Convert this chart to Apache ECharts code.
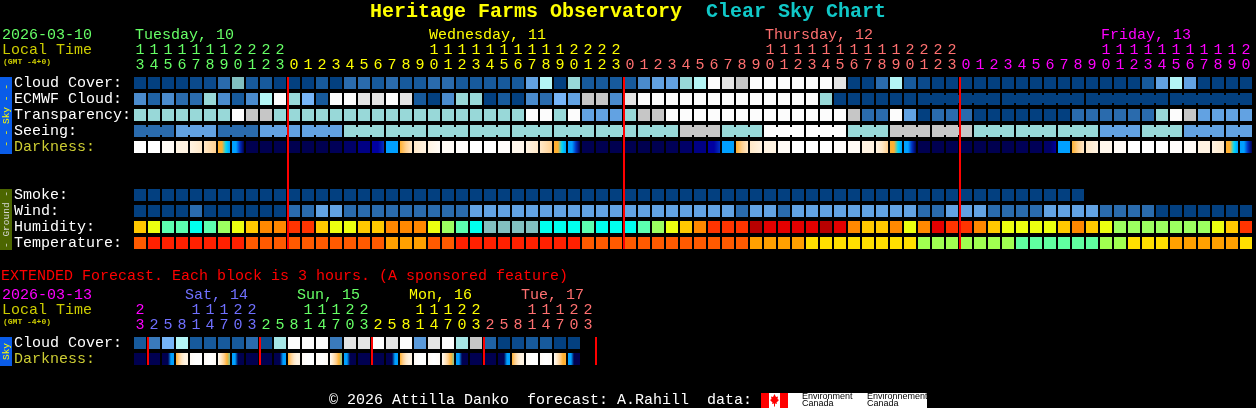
<!DOCTYPE html>
<html><head><meta charset="utf-8">
<style>html,body{margin:0;padding:0;background:#000}#c{width:1256px;height:408px}</style>
<script src="https://cdn.jsdelivr.net/npm/echarts@6/dist/echarts.min.js"></script>
</head><body><div id="c"></div>
<script>
// ---------- day colours ----------
const GREEN='#66ff66',YEL='#ffff00',SALMON='#ff7070',MAG='#ff00ff',PERI='#7070ff',OLIVE='#cccc00';

// ---------- hour labels, main forecast ----------
const hourTens=['1','1','1','1','1','1','1','2','2','2','2',
 '','','','','','','','','','','1','1','1','1','1','1','1','1','1','1','2','2','2','2',
 '','','','','','','','','','','1','1','1','1','1','1','1','1','1','1','2','2','2','2',
 '','','','','','','','','','','1','1','1','1','1','1','1','1','1','1','2'];
const hourOnes=['3','4','5','6','7','8','9','0','1','2','3',
 '0','1','2','3','4','5','6','7','8','9','0','1','2','3','4','5','6','7','8','9','0','1','2','3',
 '0','1','2','3','4','5','6','7','8','9','0','1','2','3','4','5','6','7','8','9','0','1','2','3',
 '0','1','2','3','4','5','6','7','8','9','0','1','2','3','4','5','6','7','8','9','0'];
const dayStartCols=[0,11,35,59,80];
const dayColors=[GREEN,YEL,SALMON,MAG];
const dayNames=['Tuesday, 10','Wednesday, 11','Thursday, 12','Friday, 13'];
const dayNameCols=[0,21,45,69];
const midnightCols=[11,35,59];

// ---------- hour labels, extended forecast ----------
const extTens=['2','','','','1','1','1','2','2','','','','1','1','1','2','2','','','','1','1','1','2','2','','','','1','1','1','2','2',''];
const extOnes=['3','2','5','8','1','4','7','0','3','2','5','8','1','4','7','0','3','2','5','8','1','4','7','0','3','2','5','8','1','4','7','0','3',''];
const extDayStartCols=[0,1,9,17,25,34];
const extDayColors=[MAG,PERI,GREEN,YEL,SALMON];
const extDayNames=['Sat, 14','Sun, 15','Mon, 16','Tue, 17'];
const extDayNameCols=[3,11,19,27];
const extDayNameColors=[PERI,GREEN,YEL,SALMON];
const extMidnightCols=[1,9,17,25,33];

// ---------- row names ----------
const rowNames=['Cloud Cover:','ECMWF Cloud:','Transparency:','Seeing:','Darkness:','','','Smoke:','Wind:','Humidity:','Temperature:'];
const extRowNames=['Cloud Cover:','Darkness:'];

// ---------- palettes ----------
const skyColors={0:'#034080',5:'#0b4a8c',10:'#175a9c',15:'#1f62a4',20:'#2a6bad',25:'#3a7abb',30:'#4a8bcd',35:'#5a9adb',40:'#62a2e2',50:'#76b5f8',55:'#82c0c0',60:'#98d8d8',65:'#a6e6e6',70:'#b4f6f6',80:'#c6c6c6',90:'#e4e4e4',100:'#fcfcfc'};
const humidityColors=['#82bfbf','#00ffee','#5cffb0','#9cff60','#ecff10','#ffc800','#ff8800','#ff3400','#e40000','#b80000'];
const temperatureColors=['#60ffa0','#a0ff50','#ffdf00','#ffa000','#ff5a00','#ff2000'];
const darknessRamp=['#000050','#000068','#000084','#0000a0','#0030c0','#00a0ff','#00d8f8','#ffb030','#ffd090','#ffe8c8','#fff3e2','#fffbf6','#ffffff'];

// ---------- values, main forecast ----------
const cloudCover=[0,0,0,0,5,5,20,55,10,10, 0,0,0,10,0,20,20,10,20,10,
 10,20,20,10,10,10,10,10,40,70, 0,60,10,10,10,10,30,40,40,60,
 70,100,90,80,100,100,100,100,100,100, 90,0,0,20,70,10,5,0,0,0,
 0,0,0,0,0,0,0,0,0,0, 0,0,10,40,70,40,0,0,0,0];
const ecmwfCloud=[30,15,30,20,20,60,30,10,30,70, 100,60,50,10,100,100,90,90,100,90,
 10,0,30,60,60,0,10,0,30,20, 50,40,80,80,30,90,100,100,100,100,
 100,100,100,100,100,100,100,100,100,60, 0,0,0,0,0,0,0,0,0,0,
 0,0,0,0,0,0,0,0,0,0, 0,0,0,0,0,0,0,0,0,0];
const transparency=[60,60,60,60,60,60,60,100,80,80, 60,60,60,60,60,60,60,60,60,60,
 60,60,60,60,60,60,60,60,100,100, 60,100,40,40,40,60,80,80,100,100,
 100,100,100,100,100,100,100,100,100,100, 100,80,20,20,100,40,0,20,20,20,
 0,0,0,0,0,0,0,20,20,20, 20,20,20,60,100,80,40,40,40,40];
const seeing=[20,20,20,40,40,40,20,20,20,40, 40,40,40,40,40,60,60,60,60,60,
 60,60,60,60,60,60,60,60,60,60, 60,60,60,60,60,60,60,60,60,80,
 80,80,60,60,60,100,100,100,100,100, 100,60,60,60,80,80,80,80,80,80,
 60,60,60,60,60,60,60,60,60,40, 40,40,60,60,60,40,40,40,40,40];
const darkness=[12,12,11,10,[10,9],[9,8],[7,7,6,5],[5,5,4,0],0,0,
 0,0,0,0,0.3,1,2,[3,3,4],5,[7,8,9],
 [9,10],[10,11],11,11.5,12,12,11.5,10.5,[10,9],[9,8],
 [7,7,6,5],[5,5,4,0],0,0,0,0,0,0,0.3,1,
 2,[3,3,4],5,[7,8,9],[9,10],10,11,12,12,12,
 11.5,11,10,[10,9,8],[7,7,6,5],[5,5,4,0],0,0,0,0,
 0,0,0,0.3,0.3,[1,1,3],5,[7,8,9],[9,10],10.5,
 11,12,12,12,11.5,11,10,[10,9],[7,7,6,5],[5,5,4,0]];
const smoke=[0,0,0,0,0,0,0,0,0,0, 0,0,0,0,0,0,0,0,0,0, 0,0,0,0,0,0,0,0,0,0, 0,0,0,0,0,0,0,0,0,0,
 0,0,0,0,0,0,0,0,0,0, 0,0,0,0,0,0,0,0,0,0, 0,0,0,0,0,0,0,0];
const wind=[0,0,0,0,20,0,0,0,0,0, 0,20,20,40,40,20,20,20,20,20,
 20,20,20,20,40,40,40,40,40,40, 40,40,40,40,40,40,40,40,40,40,
 40,40,40,20,40,40,20,40,40,40, 40,40,40,40,40,40,20,20,40,40,
 40,20,20,20,20,40,40,40,40,20, 20,20,20,0,0,0,0,0,0,0];
const humidity=[5,4,2,2,1,2,3,4,5,6, 6,7,7,5,4,4,5,5,6,6,
 6,4,3,2,1,0,0,0,0,1, 1,1,2,1,1,1,2,3,4,5,
 6,7,7,7,9,8,8,8,8,9, 8,6,5,5,6,4,6,8,7,7,
 6,5,4,4,4,4,5,6,5,4, 3,3,3,3,3,3,3,4,5,7];
const temperature=[4,5,5,5,5,5,5,5,4,4, 4,4,4,4,4,4,4,4,3,3,
 3,4,4,5,5,5,5,5,5,5, 5,5,4,4,4,4,4,4,4,4,
 4,4,4,4,3,3,3,3,2,2, 2,2,2,2,2,2,1,1,1,1,
 1,1,1,0,0,0,0,0,0,1, 1,2,2,2,3,3,3,3,3,2];

// ---------- values, extended forecast ----------
const extCloud=[10,25,50,70,10,10,10,10,20,5,65,100,100,100,25,90,90,100,90,100,35,90,100,65,80,15,0,5,10,10,0,0];
const extDarkness=[0,0,[0,0,0,5,5],[7,8,9,10,10],[11,12,12],[11,12,11],[11,9,8,7,6.5],[5,5,0,0,0],
 0,0,[0,0,0,5,5],[7,8,9,10,10],[11,12,12],[11,12,11],[11,9,8,7,6.5],[5,5,0,0,0],
 0,0,[0,0,0,5,5],[7,8,9,10,10],[11,12,12],[11,12,11],[11,9,8,7,6.5],[5,5,0,0,0],
 0,0,[0,0,0,5,5],[7,8,9,10,10],[11,12,12],[11,12,11],[11,9,8,7,7],[5,5,0,0,0]];

// ---------- helpers ----------
const FONT='"Liberation Mono",monospace';
const CELL=12;
function hex(c){return [1,3,5].map(i=>parseInt(c.substr(i,2),16));}
function rampColor(v){
  const a=Math.floor(v),b=Math.min(a+1,darknessRamp.length-1),t=v-a;
  const A=hex(darknessRamp[a]),B=hex(darknessRamp[b]);
  return 'rgb('+A.map((x,i)=>Math.round(x+(B[i]-x)*t)).join(',')+')';
}
function darkFill(v){
  if(!Array.isArray(v)) return rampColor(v);
  return new echarts.graphic.LinearGradient(0,0,1,0,v.map((s,i)=>({offset:i/(v.length-1),color:rampColor(s)})));
}
function dayColor(col,starts,colors){
  for(let i=colors.length-1;i>=0;i--) if(col>=starts[i]) return colors[i];
  return colors[0];
}
function axisData(labels,starts,colors){
  return labels.map((t,i)=>({value:t,textStyle:{color:dayColor(i,starts,colors),verticalAlign:'middle',align:'center',fontFamily:FONT,fontSize:15}}));
}
// one row of blocks; bridged(col) says the block joins the next one
function rowSeries(gridIdx,rowIdx,values,fill,bridged){
  return {type:'custom',xAxisIndex:gridIdx*2,yAxisIndex:gridIdx,silent:true,animation:false,z:2,
    data:values.map((v,i)=>[i,rowIdx]),
    renderItem(p,api){
      const c=api.coord([api.value(0),api.value(1)]);
      const col=api.value(0),f=fill(values[col]);
      const x=c[0]-CELL/2,y=c[1]-CELL/2;
      const kids=[{type:'rect',shape:{x,y,width:CELL,height:CELL},style:{fill:f}}];
      if(bridged&&bridged(col)&&col<values.length-1)
        kids.push({type:'rect',shape:{x:x+CELL,y:y+2,width:2,height:CELL-4},style:{fill:f}});
      return {type:'group',children:kids};
    }};
}
function redLines(gridIdx,cols,lastRow){
  return {type:'custom',xAxisIndex:gridIdx*2,yAxisIndex:gridIdx,silent:true,animation:false,z:5,
    data:cols.map(c=>[c,0]),
    renderItem(p,api){
      const a=api.coord([api.value(0),0]),b=api.coord([api.value(0),lastRow]);
      return {type:'rect',shape:{x:a[0]-7,y:a[1]-CELL/2,width:2,height:b[1]-a[1]+CELL},style:{fill:'#ff0000'}};
    }};
}
function dayHeaders(gridIdx,cols,names,colors,dx){
  return {type:'custom',xAxisIndex:gridIdx*2,yAxisIndex:gridIdx,silent:true,animation:false,z:3,
    data:cols.map(c=>[c,0]),
    renderItem(p,api){
      const a=api.coord([api.value(0),0]);
      return {type:'text',style:{text:names[p.dataIndex],x:a[0]+dx,y:a[1]-48,fill:colors[p.dataIndex],
        font:'15px '+FONT,verticalAlign:'middle',align:'left'}};
    }};
}
function xAx(gridIdx,labels,starts,colors,offset){
  return {type:'category',gridIndex:gridIdx,position:'top',offset,data:axisData(labels,starts,colors),
    axisLine:{show:false},axisTick:{show:false},splitLine:{show:false},
    axisLabel:{show:true,interval:0,margin:10,fontFamily:FONT,fontSize:15,hideOverlap:false}};
}
function yAx(gridIdx,names){
  return {type:'category',gridIndex:gridIdx,inverse:true,
    data:names.map(n=>({value:n,textStyle:{color:n==='Darkness:'?'#cccc33':'#ffffff',align:'left',verticalAlign:'middle',fontFamily:FONT,fontSize:15,padding:[0,0,2,0]}})),
    axisLine:{show:false},axisTick:{show:false},splitLine:{show:false},
    axisLabel:{show:true,interval:0,margin:119,fontFamily:FONT,fontSize:15}};
}
const sky=v=>skyColors[v];
const seeingJoin=c=>c%3!==2;
const ecmwfJoin=c=>c>=56&&(c-56)%6!==5;
function txt(text,x,y,fill,font){
  return {type:'text',silent:true,x,y,style:{text,fill,font,verticalAlign:'middle',align:'left'}};
}
function sideBar(y,h,fill,text,color){
  return [
    {type:'rect',silent:true,shape:{x:0,y,width:12,height:h},style:{fill}},
    {type:'text',silent:true,x:6,y:y+h/2,rotation:Math.PI/2,
     style:{text,fill:color,font:'9.5px '+FONT,align:'center',verticalAlign:'middle'}}
  ];
}

const option={
  backgroundColor:'#000000',
  animation:false,
  title:[
    {text:'Heritage Farms Observatory',left:370,top:2,padding:0,textStyle:{color:'#ffff00',fontFamily:FONT,fontSize:20,fontWeight:'bold'}},
    {text:'Clear Sky Chart',left:706,top:2,padding:0,textStyle:{color:'#10c8c8',fontFamily:FONT,fontSize:20,fontWeight:'bold'}}
  ],
  grid:[
    {left:133,top:75,width:1120,height:176,outerBoundsMode:'none'},
    {left:133,top:335,width:476,height:32,outerBoundsMode:'none'}
  ],
  xAxis:[
    xAx(0,hourOnes,dayStartCols,dayColors,0),
    xAx(0,hourTens,dayStartCols,dayColors,15),
    xAx(1,extOnes,extDayStartCols,extDayColors,0),
    xAx(1,extTens,extDayStartCols,extDayColors,15)
  ],
  yAxis:[yAx(0,rowNames),yAx(1,extRowNames)],
  series:[
    rowSeries(0,0,cloudCover,sky),
    rowSeries(0,1,ecmwfCloud,sky,ecmwfJoin),
    rowSeries(0,2,transparency,sky),
    rowSeries(0,3,seeing,sky,seeingJoin),
    rowSeries(0,4,darkness,darkFill),
    rowSeries(0,7,smoke,sky),
    rowSeries(0,8,wind,sky),
    rowSeries(0,9,humidity,v=>humidityColors[v]),
    rowSeries(0,10,temperature,v=>temperatureColors[v]),
    redLines(0,midnightCols,10),
    dayHeaders(0,dayNameCols,dayNames,dayColors,-5),
    rowSeries(1,0,extCloud,sky),
    rowSeries(1,1,extDarkness,darkFill),
    redLines(1,extMidnightCols,1),
    dayHeaders(1,extDayNameCols,extDayNames,extDayNameColors,3)
  ],
  graphic:{elements:[
    txt('2026-03-10',2,35,GREEN,'15px '+FONT),
    txt('Local Time',2,50,OLIVE,'15px '+FONT),
    txt('(GMT -4+0)',3,62,OLIVE,'bold 8px '+FONT),
    ...sideBar(77,77,'#0a5ce8','- - Sky - -','#ffff00'),
    ...sideBar(189,61,'#4c6600','- Ground -','#d8d8d8'),
    txt('EXTENDED Forecast. Each block is 3 hours. (A sponsored feature)',1,276,'#ff0000','15px '+FONT),
    txt('2026-03-13',2,295,MAG,'15px '+FONT),
    txt('Local Time',2,310,OLIVE,'15px '+FONT),
    txt('(GMT -4+0)',3,322,OLIVE,'bold 8px '+FONT),
    ...sideBar(337,29,'#0a5ce8','Sky','#ffff00'),
    txt('\u00a9 2026 Attilla Danko  forecast: A.Rahill  data:',329,400,'#ffffff','15px '+FONT),
    {type:'rect',silent:true,shape:{x:761,y:393,width:166,height:15},style:{fill:'#ffffff'}},
    {type:'rect',silent:true,shape:{x:761,y:393,width:8,height:15},style:{fill:'#ff0000'}},
    {type:'rect',silent:true,shape:{x:780,y:393,width:8,height:15},style:{fill:'#ff0000'}},
    {type:'polygon',silent:true,shape:{points:[[774.5,394],[776,397],[778,396.5],[777.5,399],[779,400],[776.5,402.5],[777,404],[775,403.5],[775,406.5],[774,406.5],[774,403.5],[772,404],[772.5,402.5],[770,400],[771.5,399],[771,396.5],[773,397]]},style:{fill:'#ff0000'}},
    txt('Environment',802,396.5,'#000000','9px "Liberation Sans",sans-serif'),
    txt('Canada',802,404,'#000000','9px "Liberation Sans",sans-serif'),
    txt('Environnement',867,396.5,'#000000','9px "Liberation Sans",sans-serif'),
    txt('Canada',867,404,'#000000','9px "Liberation Sans",sans-serif')
  ]}
};
const chart=echarts.init(document.getElementById('c'),null,{renderer:'canvas'});
chart.setOption(option);
</script></body></html>
